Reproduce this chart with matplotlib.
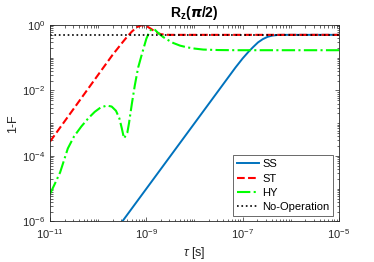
import numpy as np
import matplotlib
matplotlib.use('Agg')
import matplotlib.pyplot as plt
from matplotlib.ticker import LogLocator, NullFormatter

plt.rcParams['font.family'] = ['Liberation Sans', 'DejaVu Sans']
plt.rcParams['mathtext.fontset'] = 'custom'
plt.rcParams['mathtext.rm'] = 'Liberation Sans'
plt.rcParams['mathtext.it'] = 'Liberation Sans:italic'
plt.rcParams['mathtext.bf'] = 'Liberation Sans:bold'

# data, as log10 exponents
ss_x = [-9.6, -9.0, -8.0, -7.4, -7.15, -7.0, -6.88, -6.78, -6.68, -6.58, -6.48, -6.38, -6.28, -6.15, -5.0]
ss_y = [-6.2, -5.0, -3.0, -1.8, -1.3, -1.02, -0.82, -0.67, -0.53, -0.43, -0.36, -0.322, -0.306, -0.301, -0.301]

st_x = [-11.0, -10.5, -10.0, -9.7, -9.5, -9.4, -9.3, -9.2, -9.1, -9.0, -8.9, -8.8, -8.7, -8.6, -8.5, -5.0]
st_y = [-3.56, -2.54, -1.52, -0.91, -0.54, -0.36, -0.20, -0.07, -0.005, -0.03, -0.12, -0.22, -0.28, -0.298, -0.301, -0.301]

hy_x = [-11.0, -10.9, -10.79, -10.63, -10.5, -10.35, -10.2, -10.07, -9.95, -9.82, -9.72, -9.63, -9.56, -9.51,
        -9.464, -9.43, -9.395, -9.36, -9.3, -9.24, -9.17, -9.1, -9.0, -8.94, -8.89, -8.82, -8.75, -8.648,
        -8.55, -8.44, -8.3, -8.16, -8.0, -7.82, -7.5, -7.12, -5.0]
hy_y = [-5.16, -4.85, -4.50, -3.77, -3.40, -3.10, -2.84, -2.65, -2.52, -2.46, -2.49, -2.62, -2.85, -3.15,
        -3.46, -3.38, -3.29, -3.00, -2.40, -1.85, -1.30, -0.93, -0.42, -0.22, -0.12, -0.15, -0.25, -0.37,
        -0.46, -0.55, -0.63, -0.68, -0.72, -0.75, -0.765, -0.77, -0.77]

noop_x = [-11.0, -5.0]
noop_y = [-0.301, -0.301]

labels = ['SS', 'ST', 'HY', 'No-Operation']

fig = plt.figure(figsize=(3.74, 2.62), dpi=100)
ax = fig.add_axes([0.1337, 0.1546, 0.7727, 0.75])

ax.plot(10.0 ** np.array(ss_x), 10.0 ** np.array(ss_y), '-', color='#0072BD', lw=1.4, label=labels[0])
ax.plot(10.0 ** np.array(st_x), 10.0 ** np.array(st_y), '--', color='#FF0000', lw=1.5, label=labels[1])
ax.plot(10.0 ** np.array(hy_x), 10.0 ** np.array(hy_y), '-.', color='#00FF00', lw=1.5, label=labels[2])
ax.plot(10.0 ** np.array(noop_x), 10.0 ** np.array(noop_y), ':', color='black', lw=1.2, label=labels[3])

ax.set_xscale('log')
ax.set_yscale('log')
ax.set_xlim(1e-11, 1e-5)
ax.set_ylim(1e-6, 1e0)
ax.set_xticks([1e-11, 1e-9, 1e-7, 1e-5])
ax.set_yticks([1e-6, 1e-4, 1e-2, 1e0])
ax.xaxis.set_minor_locator(LogLocator(base=10, subs=np.arange(1, 10), numticks=50))
ax.yaxis.set_minor_locator(LogLocator(base=10, subs=np.arange(1, 10), numticks=50))
ax.xaxis.set_minor_formatter(NullFormatter())
ax.yaxis.set_minor_formatter(NullFormatter())

grey = '#262626'
for s in ax.spines.values():
    s.set_color('#262626')
    s.set_linewidth(0.6)
ax.tick_params(which='both', direction='in', top=True, right=True, colors=grey, labelsize=8, width=0.5)
ax.tick_params(which='major', length=3)
ax.tick_params(which='minor', length=1.8)
ax.tick_params(axis='x', which='major', pad=4)

ax.set_xlabel(r'$\tau$ [s]', fontsize=9, color=grey, labelpad=3)
ax.set_ylabel('1-F', fontsize=9, color=grey, labelpad=2)
ax.set_title(r'$\mathbf{R_z(}\boldsymbol{\pi}\mathbf{/2)}$', fontsize=10, pad=6)

leg = ax.legend(loc='lower right', fontsize=8, frameon=True, fancybox=False, handlelength=2.0,
                borderpad=0.35, labelspacing=0.38, handletextpad=0.3, borderaxespad=0.5)
leg.get_frame().set_edgecolor('#262626')
leg.get_frame().set_linewidth(0.6)

plt.savefig('out.png', dpi=100)
